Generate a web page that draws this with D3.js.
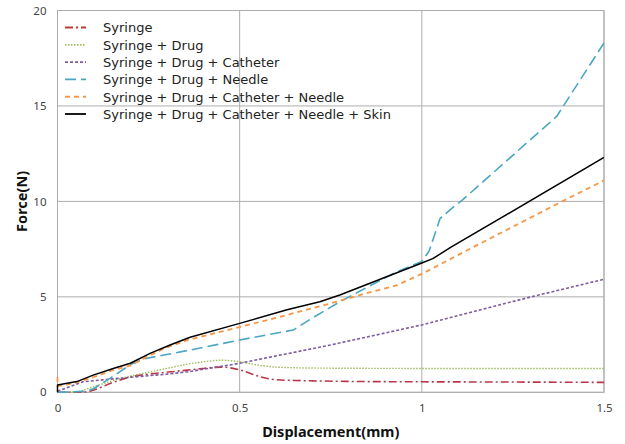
<!DOCTYPE html>
<html><head><meta charset="utf-8">
<script src="https://cdn.jsdelivr.net/npm/d3@7"></script>
<style>body{margin:0;background:#fff}svg{display:block}</style>
</head><body>
<svg id="c" width="625" height="444"></svg>
<script>
const seriesNames = ["Syringe","Syringe + Drug","Syringe + Drug + Catheter","Syringe + Drug + Needle","Syringe + Drug + Catheter + Needle","Syringe + Drug + Catheter + Needle + Skin"];
const xTicks = [0, 0.5, 1, 1.5];
const xTickLabels = ["0","0.5","1","1.5"];
const yTicks = [0, 5, 10, 15, 20];

const syringeX = [0,0.05,0.08,0.1,0.15,0.2,0.25,0.3,0.35,0.4,0.45,0.5,0.55,0.6,0.65,0.7,0.8,1.0,1.2,1.5];
const syringeY = [0,0,0.02,0.12,0.5,0.8,0.95,1.05,1.15,1.25,1.32,1.18,0.85,0.66,0.62,0.6,0.57,0.55,0.54,0.52];
const drugX = [0,0.05,0.1,0.15,0.2,0.25,0.3,0.35,0.4,0.45,0.5,0.55,0.6,0.7,0.8,1.0,1.5];
const drugY = [0,0.03,0.3,0.6,0.85,1.05,1.25,1.45,1.6,1.68,1.6,1.43,1.32,1.27,1.26,1.25,1.25];
const catheterX = [0,0.07,0.14,0.22,0.3,0.36,0.5,0.75,1.0,1.3,1.5];
const catheterY = [0.05,0.55,0.68,0.82,0.95,1.08,1.52,2.48,3.53,5.0,5.92];
const needleX = [0,0.08,0.1,0.144,0.2,0.236,0.3,0.4,0.5,0.647,0.7,0.775,0.85,0.93,1.0,1.02,1.05,1.08,1.11,1.37,1.5];
const needleY = [0,0.05,0.2,0.73,1.45,1.75,1.98,2.35,2.74,3.26,3.9,4.74,5.5,6.3,6.85,7.4,9.1,9.6,10.05,14.45,18.3];
const cathNeedleX = [0,0,0.05,0.1,0.15,0.2,0.25,0.3,0.36,0.5,0.6,0.75,0.84,0.93,1.0,1.1,1.39,1.5];
const cathNeedleY = [0.8,0.32,0.5,0.8,1.15,1.4,1.9,2.35,2.75,3.42,3.9,4.66,5.15,5.6,6.2,7.2,10.05,11.1];
const skinX = [0,0,0.053,0.098,0.153,0.18,0.2,0.254,0.309,0.364,0.5,0.63,0.72,0.775,1.0,1.03,1.08,1.5];
const skinY = [0,0.38,0.56,0.9,1.25,1.4,1.52,2.04,2.48,2.88,3.61,4.32,4.74,5.1,6.77,7.0,7.6,12.3];

const seriesX = [syringeX, drugX, catheterX, needleX, cathNeedleX, skinX];
const seriesY = [syringeY, drugY, catheterY, needleY, cathNeedleY, skinY];
const colors = ["#b8384a","#9bbb59","#7d5ca0","#4ba6c3","#f79646","#000000"];
const dashes = ["8,3,2,3","1.5,1.5","3,2","11,5","5,4",null];
const widths = [1.6,1.4,1.6,1.6,1.8,1.5];
const smooth = [true,true,false,false,false,false];

const svg = d3.select("#c");
const L = 57.5, R = 604, T = 10.5, B = 392.3;
const x = d3.scaleLinear().domain([0,1.5]).range([L,R]);
const y = d3.scaleLinear().domain([0,20]).range([B,T]);

const gridColor = "#adadad";
const g = svg.append("g");
g.selectAll(".gx").data(xTicks).enter().append("line")
  .attr("x1", d=>x(d)).attr("x2", d=>x(d)).attr("y1", T).attr("y2", B)
  .attr("stroke", gridColor).attr("stroke-width",1);
g.selectAll(".gy").data(yTicks).enter().append("line")
  .attr("x1", L).attr("x2", R).attr("y1", d=>y(d)).attr("y2", d=>y(d))
  .attr("stroke", gridColor).attr("stroke-width",1);
g.append("rect").attr("x",L).attr("y",T).attr("width",R-L).attr("height",B-T)
  .attr("fill","none").attr("stroke",gridColor).attr("stroke-width",1);

const xAxis = d3.axisBottom(x).tickValues(xTicks).tickSize(0).tickFormat((d,i)=>xTickLabels[i]).tickPadding(12);
const xa = svg.append("g").attr("transform",`translate(0,${B})`).call(xAxis);
xa.select(".domain").remove();
xa.selectAll("text").attr("font-family","Noto Sans, sans-serif").attr("font-size",11.5).attr("fill","#444");
const yAxis = d3.axisLeft(y).tickValues(yTicks).tickSize(0).tickPadding(11);
const ya = svg.append("g").attr("transform",`translate(${L},0)`).call(yAxis);
ya.select(".domain").remove();
ya.selectAll("text").attr("font-family","Noto Sans, sans-serif").attr("font-size",11.5).attr("fill","#444");

svg.append("text").attr("x",(L+R)/2).attr("y",437).attr("text-anchor","middle")
  .attr("font-family","Noto Sans, sans-serif").attr("font-weight","bold").attr("font-size",14.5).attr("fill","#111")
  .text("Displacement(mm)");
svg.append("text").attr("transform",`translate(27,${(T+B)/2}) rotate(-90)`).attr("text-anchor","middle")
  .attr("font-family","Noto Sans, sans-serif").attr("font-weight","bold").attr("font-size",14.5).attr("fill","#111")
  .text("Force(N)");

svg.append("clipPath").attr("id","clp").append("rect").attr("x",L-2).attr("y",T).attr("width",R-L+2).attr("height",B-T+1);
seriesNames.forEach((name,i)=>{
  const pts = seriesX[i].map((d,j)=>[d, seriesY[i][j]]);
  const line = d3.line().x(d=>x(d[0])).y(d=>y(d[1])).curve(smooth[i]? d3.curveMonotoneX : d3.curveLinear);
  svg.append("path").attr("d", line(pts)).attr("fill","none")
    .attr("stroke", colors[i]).attr("stroke-width", widths[i])
    .attr("stroke-dasharray", dashes[i]).attr("stroke-linejoin","round")
    .attr("clip-path","url(#clp)");
});

const lg = svg.append("g");
seriesNames.forEach((name,i)=>{
  const yy = 27.5 + i*17.3;
  lg.append("line").attr("x1",65).attr("x2",86).attr("y1",yy).attr("y2",yy)
    .attr("stroke",i===0?"#c0392b":colors[i]).attr("stroke-width",widths[i]+0.3).attr("stroke-dasharray",dashes[i]);
  lg.append("text").attr("x",103).attr("y",yy+4.8).attr("font-family","DejaVu Sans, sans-serif")
    .attr("font-size",13).attr("fill","#222").text(name);
});
</script>
</body></html>
